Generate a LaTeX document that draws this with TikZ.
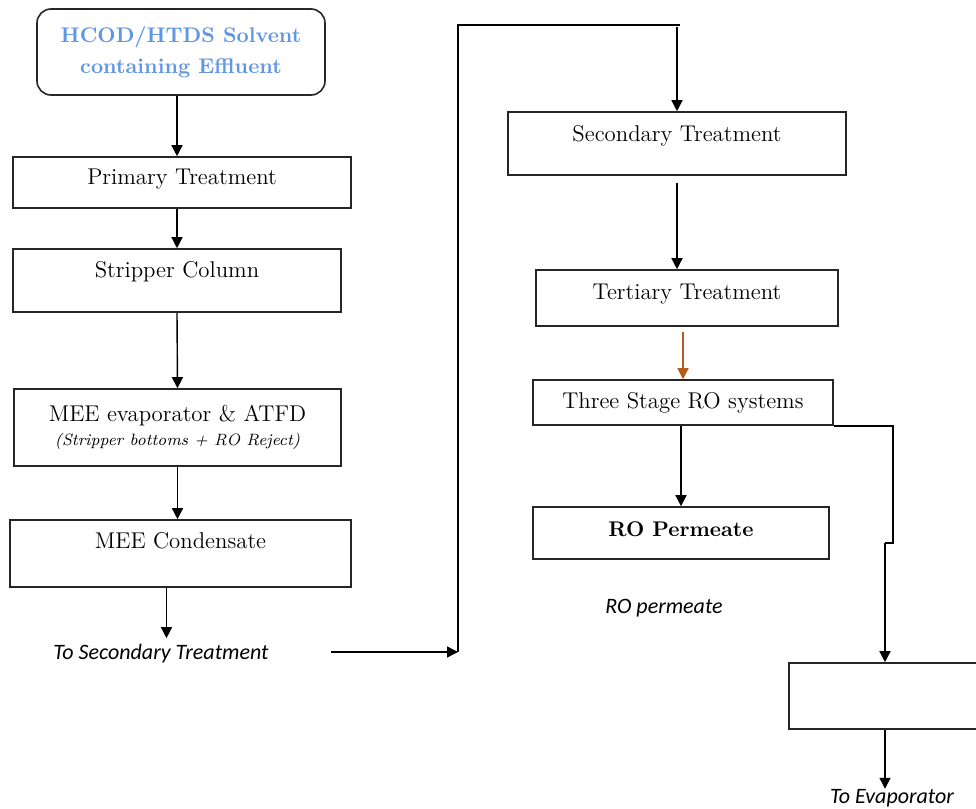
\documentclass[tikz,border=0pt]{standalone}
\usepackage{fontspec}
\newfontfamily\notefont{Carlito}
\usetikzlibrary{arrows.meta}
\definecolor{feedblue}{RGB}{96,150,228}
\definecolor{rustbrown}{RGB}{180,92,26}
\tikzset{
  box/.style={draw=black!85, line width=0.8pt, rectangle, inner sep=2pt,
    font=\fontsize{11.4}{13}\selectfont, text height=8pt, text depth=2.5pt},
  lift/.style={text depth=#1},
  flow/.style={-{Triangle[length=5.5pt,width=5.5pt]}, line width=0.7pt},
  note/.style={font=\notefont\itshape\fontsize{11}{13}\selectfont, inner sep=1pt}
}
\begin{document}
\begin{tikzpicture}[x=0.5pt,y=-0.5pt]
  \useasboundingbox (0,0) rectangle (976,809);
  % Left column
  \node[box, rounded corners=7pt, minimum width=144pt, minimum height=43pt, align=center,
    font=\bfseries\fontsize{10.6}{15.5}\selectfont, text=feedblue, text height=, text depth=] (feed) at (181,52)
    {HCOD/HTDS Solvent\\containing Effluent};
  \node[box, minimum width=169pt, minimum height=25.5pt, lift=6pt] (primary) at (182,182.5) {Primary Treatment};
  \node[box, minimum width=164pt, minimum height=31.5pt, lift=11pt] (stripper) at (177,280.5) {Stripper Column};
  \node[box, minimum width=163.5pt, minimum height=38.5pt, align=center, text height=, text depth=] (mee) at (177.5,427.5)
    {MEE evaporator \& ATFD\\[-1pt]{\fontsize{8.2}{9}\selectfont\itshape (Stripper bottoms + RO Reject)}};
  \node[box, minimum width=170.5pt, minimum height=33.5pt, lift=13pt] (cond) at (180.5,553.5) {MEE Condensate};
  \node[note] (tosec) at (161,654) {To Secondary Treatment};
  % Right column
  \node[box, minimum width=169pt, minimum height=31.5pt, lift=10pt] (sec) at (677,143.5) {Secondary Treatment};
  \node[box, minimum width=151pt, minimum height=28pt, lift=6.5pt] (tert) at (687,298) {Tertiary Treatment};
  \node[box, minimum width=150pt, minimum height=22.5pt, lift=2.5pt] (three) at (683,402.5) {Three Stage RO systems};
  \node[box, minimum width=148pt, minimum height=26pt, lift=5pt, font=\bfseries\fontsize{10.6}{13}\selectfont] (ro) at (681,533) {RO Permeate};
  \node[note] (ronote) at (664,608) {RO permeate};
  \node[box, minimum width=105.5pt, minimum height=33pt] (evap) at (894.5,696) {};
  \node[note] (toevap) at (892,798) {To Evaporator};
  % Bends of the long lines
  \coordinate (start) at (331,652);
  \coordinate (bend1) at (458,652);
  \coordinate (bend2) at (458,25);
  \coordinate (bend3) at (680,25);
  \coordinate (rej2) at (893,543);
  \coordinate (rej3) at (885,543);
  % Arrows
  \draw[flow] ([xshift=-2pt]feed.south) -- ([xshift=-2pt]feed.south |- primary.north);
  \draw[flow] (primary.south -| stripper.north) -- (stripper.north);
  \draw[flow] (stripper.south) -- (mee.north);
  \draw[flow] (mee.south) -- (mee.south |- cond.north);
  \draw[flow] ([xshift=-7pt]cond.south) -- ([xshift=-7pt,yshift=2pt]cond.south |- tosec.north);
  \draw[flow] (start) -- (bend1);
  \draw[line width=0.7pt] (bend1) -- (bend2) -- (bend3);
  \draw[flow] ([yshift=-1pt]bend3 -| sec.north) -- (sec.north);
  \draw[flow] ([yshift=-3.5pt]sec.south) -- (sec.south |- tert.north);
  \draw[flow, draw=rustbrown, fill=rustbrown] ([yshift=-2.5pt]tert.south -| three.north) -- (three.north);
  \draw[flow] (three.south -| ro.north) -- (ro.north);
  \draw[line width=0.7pt] (three.south east) -| (rej2) -- (rej3);
  \draw[flow] (rej3) -- (rej3 |- evap.north);
  \draw[flow] (rej3 |- evap.south) -- ([yshift=-1pt]rej3 |- toevap.north);
\end{tikzpicture}
\end{document}
